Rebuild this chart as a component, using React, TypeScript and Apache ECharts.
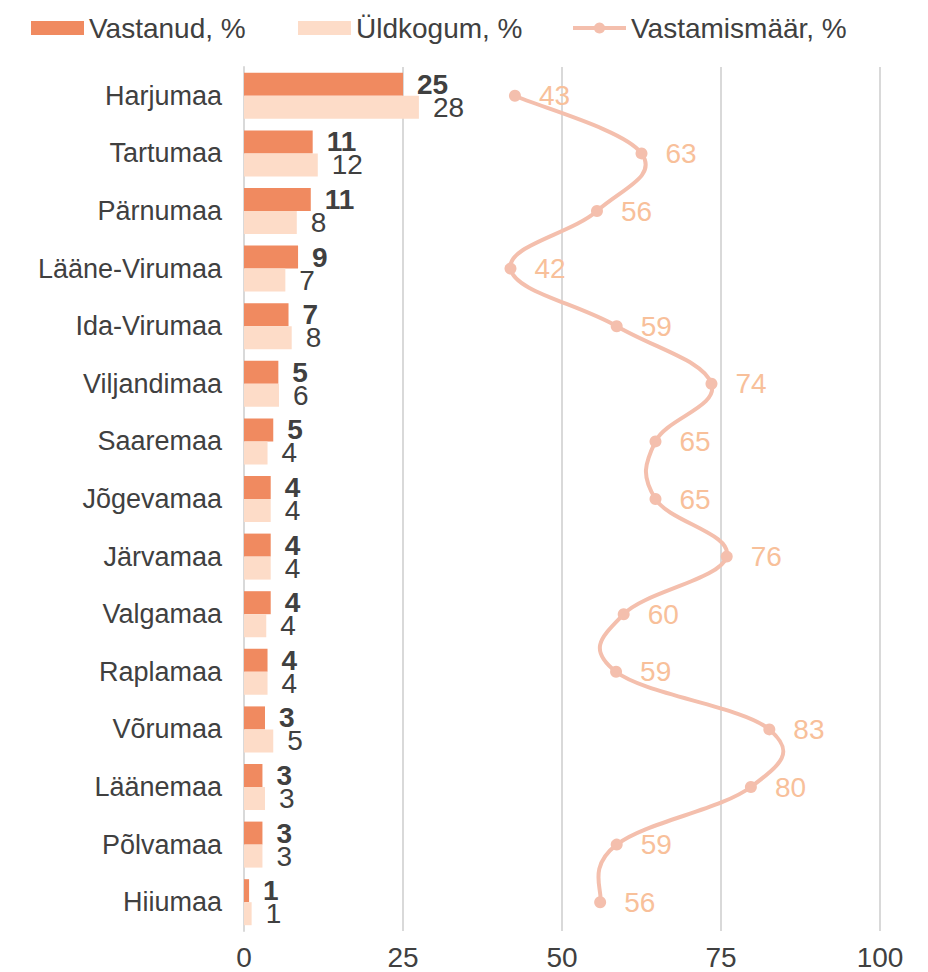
import React, { useEffect, useRef } from 'react';
import * as echarts from 'echarts';

const categories = [
  'Harjumaa', 'Tartumaa', 'Pärnumaa', 'Lääne-Virumaa', 'Ida-Virumaa',
  'Viljandimaa', 'Saaremaa', 'Jõgevamaa', 'Järvamaa', 'Valgamaa',
  'Raplamaa', 'Võrumaa', 'Läänemaa', 'Põlvamaa', 'Hiiumaa',
];
const vastanud = [25.0, 10.8, 10.5, 8.5, 7.0, 5.4, 4.6, 4.2, 4.2, 4.2, 3.7, 3.3, 2.9, 2.9, 0.8];
const uldkogum = [27.5, 11.6, 8.3, 6.5, 7.5, 5.5, 3.7, 4.2, 4.2, 3.5, 3.7, 4.6, 3.3, 2.9, 1.2];
const vastamismaar = [42.6, 62.5, 55.5, 41.9, 58.6, 73.5, 64.7, 64.7, 75.9, 59.7, 58.5, 82.6, 79.7, 58.6, 56.0];
const xTicks = [0, 25, 50, 75, 100];

const seriesNames = ['Vastanud, %', 'Üldkogum, %', 'Vastamismäär, %'];

const FONT = '"Liberation Sans", Arial, sans-serif';
const TEXT = '#404040';
const C_V = '#F08A60';
const C_U = '#FDDCC8';
const C_L = '#F4BFAD';
const C_LL = '#F8C09A';
const TENSION = 0.2;

export default function App() {
  const ref = useRef<HTMLDivElement>(null);
  useEffect(() => {
    const chart = echarts.init(ref.current!, null, { renderer: 'svg' });
    const legendCommon = {
      top: 14,
      padding: 0,
      itemWidth: 53,
      itemHeight: 14,
      itemGap: 45,
      textStyle: { fontSize: 28, color: TEXT, fontFamily: FONT },
      selectedMode: false,
    };
    const lineData = vastamismaar.map((v, i) => [v, categories[i]]);
    chart.setOption({
      animation: false,
      backgroundColor: '#ffffff',
      textStyle: { fontFamily: FONT },
      legend: [
        { ...legendCommon, left: 31, data: [{ name: seriesNames[0], icon: 'rect' }] },
        { ...legendCommon, left: 298, data: [{ name: seriesNames[1], icon: 'rect' }] },
        {
          ...legendCommon,
          left: 571,
          data: [{
            name: seriesNames[2],
            lineStyle: { color: C_L, width: 4, opacity: 1 },
            itemStyle: { color: C_L, opacity: 1 },
          }],
        },
      ],
      grid: {
        left: 244,
        right: 48,
        top: 67,
        bottom: 41,
        containLabel: false,
        outerBoundsMode: 'none',
      },
      xAxis: {
        type: 'value',
        min: xTicks[0],
        max: xTicks[xTicks.length - 1],
        interval: xTicks[1] - xTicks[0],
        axisLine: { show: false },
        axisTick: { show: false },
        splitLine: { show: true, lineStyle: { color: '#D9D9D9', width: 2 } },
        axisLabel: { fontSize: 28, color: TEXT, margin: 12, fontFamily: FONT },
      },
      yAxis: {
        type: 'category',
        data: categories,
        inverse: true,
        axisLine: { show: true, lineStyle: { color: '#D9D9D9', width: 2 } },
        axisTick: { show: false },
        axisLabel: { fontSize: 27, color: TEXT, margin: 22, fontFamily: FONT },
      },
      series: [
        {
          name: seriesNames[0],
          type: 'bar',
          data: vastanud,
          barWidth: 23,
          barGap: '0%',
          itemStyle: { color: C_V },
          label: {
            show: true,
            position: 'right',
            distance: 14,
            fontSize: 28,
            fontWeight: 'bold',
            color: TEXT,
            fontFamily: FONT,
            formatter: (p: any) => String(Math.round(p.value)),
          },
        },
        {
          name: seriesNames[1],
          type: 'bar',
          data: uldkogum,
          barWidth: 23,
          barGap: '0%',
          itemStyle: { color: C_U },
          label: {
            show: true,
            position: 'right',
            distance: 14,
            fontSize: 28,
            color: TEXT,
            fontFamily: FONT,
            formatter: (p: any) => String(Math.round(p.value)),
          },
        },
        {
          type: 'custom',
          data: lineData,
          encode: { x: 0, y: 1 },
          z: 4,
          silent: true,
          renderItem: (params: any, api: any) => {
            if (params.dataIndex !== 0) return null;
            const pts = vastamismaar.map((v, i) => api.coord([v, i]));
            const n = pts.length;
            let d = `M${pts[0][0]},${pts[0][1]}`;
            for (let i = 0; i < n - 1; i++) {
              const p0 = pts[Math.max(i - 1, 0)];
              const p1 = pts[i];
              const p2 = pts[i + 1];
              const p3 = pts[Math.min(i + 2, n - 1)];
              const c1x = p1[0] + (p2[0] - p0[0]) * TENSION;
              const c1y = p1[1] + (p2[1] - p0[1]) * TENSION;
              const c2x = p2[0] - (p3[0] - p1[0]) * TENSION;
              const c2y = p2[1] - (p3[1] - p1[1]) * TENSION;
              d += ` C${c1x},${c1y} ${c2x},${c2y} ${p2[0]},${p2[1]}`;
            }
            return {
              type: 'path',
              shape: { pathData: d },
              style: { stroke: C_L, lineWidth: 4, fill: 'none' },
            };
          },
        },
        {
          name: seriesNames[2],
          type: 'line',
          data: lineData,
          symbol: 'circle',
          symbolSize: 12,
          z: 5,
          lineStyle: { color: C_L, width: 4, opacity: 0 },
          itemStyle: { color: C_L },
          label: {
            show: true,
            position: 'right',
            distance: 18,
            fontSize: 28,
            color: C_LL,
            fontFamily: FONT,
            formatter: (p: any) => String(Math.round(p.value[0])),
          },
        },
      ],
    });
    return () => chart.dispose();
  }, []);
  return (
    <div
      ref={ref}
      style={{ position: 'absolute', left: 0, top: 0, width: 928, height: 972, background: '#fff' }}
    />
  );
}
